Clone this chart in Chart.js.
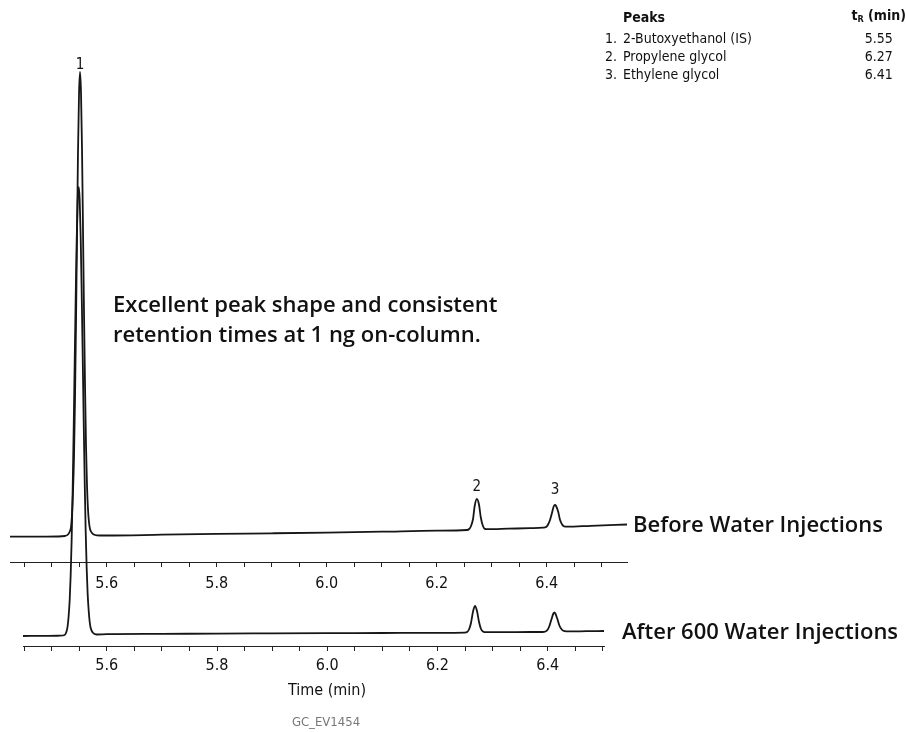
<!DOCTYPE html>
<html>
<head>
<meta charset="utf-8">
<script src="https://cdn.jsdelivr.net/npm/chart.js@4.4.1/dist/chart.umd.min.js"></script>
<style>
  html, body { margin: 0; padding: 0; background: #fff; }
  #wrap { position: relative; width: 906px; height: 732px; overflow: hidden; }
  canvas { position: absolute; left: 0; top: 0; }
  .txt { position: absolute; white-space: nowrap; color: #111; }
  .narrow { font-family: "Liberation Sans Narrow", "DejaVu Sans Condensed", sans-serif; }
  .bold { font-family: "Open Sans", sans-serif; font-weight: 600; font-size: 22px; line-height: 30px; }
  #peaks { position: absolute; left: 605px; top: 5px; border-collapse: collapse; font-size: 14px; color: #111; }
  #peaks td { padding: 0; line-height: 18px; white-space: nowrap; }
  #peaks tr.hd td { font-weight: bold; line-height: 20px; }
  #peaks td.c { text-align: center; }
  #peaks sub { font-size: 9px; vertical-align: -2px; }
</style>
</head>
<body>
<div id="wrap">
  <canvas id="cBefore" width="906" height="732"></canvas>
  <canvas id="cAfter" width="906" height="732"></canvas>

  <table id="peaks" class="narrow">
    <colgroup><col style="width:18px"><col style="width:229px"><col style="width:50px"></colgroup>
    <tbody id="peakRows">
      <tr class="hd"><td></td><td>Peaks</td><td class="c">t<sub>R</sub> (min)</td></tr>
    </tbody>
  </table>

  <div class="txt bold" style="left:113px; top:288px;">Excellent peak shape and consistent<br>retention times at 1 ng on-column.</div>
  <div class="txt bold" style="left:633px; top:508px;">Before Water Injections</div>
  <div class="txt bold" style="left:622px; top:615px;">After 600 Water Injections</div>
  <div class="txt narrow" style="left:327px; top:681px; font-size:16px; line-height:18px; transform:translateX(-50%);">Time (min)</div>
  <div class="txt narrow" style="left:326px; top:714px; font-size:13px; line-height:16px; color:#777; transform:translateX(-50%);">GC_EV1454</div>
</div>

<script>
// chromatogram before water injections (time in min, signal in arbitrary units)
const timeBefore = [5.424, 5.470, 5.510,
    5.5240, 5.5295, 5.5331, 5.5349, 5.5367, 5.5385, 5.5404, 5.5422, 5.5440, 5.5458, 5.5476, 5.5495, 5.5513,
    5.5531, 5.5549, 5.5567, 5.5585, 5.5604, 5.5622, 5.5640, 5.5658, 5.5676, 5.5695, 5.5731, 5.5785, 5.5876,
    5.600, 5.700, 5.800, 5.900, 6.000, 6.100, 6.200,
    6.255, 6.259, 6.262, 6.266, 6.269, 6.273, 6.277, 6.280, 6.284, 6.288, 6.293,
    6.330, 6.370,
    6.393, 6.399, 6.402, 6.406, 6.410, 6.413, 6.415, 6.417, 6.421, 6.424, 6.428, 6.431, 6.437,
    6.480, 6.546];
const signalBefore = [0.3, 0.3, 0.5,
    1.0, 2.5, 6, 10, 22, 44, 80, 137, 213, 299, 383, 443, 465,
    445, 390, 310, 228, 152, 92, 52, 28, 15, 8, 4, 2, 1.5,
    1.5, 2.3, 3.1, 3.7, 4.4, 5.3, 6.3,
    7.0, 8, 10.5, 18, 31, 38, 32, 20, 11, 8, 7.8,
    8.3, 8.8,
    9.3, 10, 12, 17, 25, 31, 32, 31, 25, 17.5, 12.5, 10.8, 10.3,
    11.2, 12.5];

// chromatogram after 600 water injections
const timeAfter = [5.448, 5.490, 5.515,
    5.5236, 5.5272, 5.5290, 5.5308, 5.5327, 5.5345, 5.5363, 5.5381, 5.5399, 5.5417,
    5.5436, 5.5454, 5.5472, 5.5490, 5.5508, 5.5526, 5.5544, 5.5563, 5.5581, 5.5599,
    5.5617, 5.5635, 5.5653, 5.5672, 5.5690, 5.5708, 5.5744, 5.5817,
    5.600, 5.700, 5.800, 5.900, 6.000, 6.100, 6.200,
    6.2498, 6.2535, 6.2571, 6.2607, 6.2644, 6.2680, 6.2716, 6.2753, 6.2789, 6.2825, 6.2880,
    6.330, 6.370,
    6.3902, 6.3957, 6.3993, 6.4030, 6.4066, 6.4102, 6.4120, 6.4138, 6.4174, 6.4211, 6.4247, 6.4283, 6.4338,
    6.470, 6.502];
const signalAfter = [0, 0.1, 0.3,
    1, 5, 10, 20, 36, 61, 97, 146, 206, 272,
    339, 396, 435, 449, 437, 400, 345, 280, 215, 155,
    105, 68, 42, 25, 14, 8, 3.5, 1.5,
    1.8, 2.1, 2.4, 2.6, 2.8, 3.0, 3.2,
    3.4, 4, 6.5, 13, 24.5, 30, 25, 14, 7, 4.5, 3.8,
    3.9, 4.0,
    4, 4.5, 6, 10, 16.5, 22.5, 23.7, 22.5, 17, 10.5, 7, 5.2, 4.6,
    4.8, 5];

const peakNumbers = ['1', '2', '3'];
const peakNames = ['2-Butoxyethanol (IS)', 'Propylene glycol', 'Ethylene glycol'];
const retentionTimes = [5.55, 6.27, 6.41];

const tickStep = 0.05;
const labelStep = 0.2;

// legend table
const rows = document.getElementById('peakRows');
peakNames.forEach((name, i) => {
    const tr = document.createElement('tr');
    tr.innerHTML = '<td>' + peakNumbers[i] + '.</td><td>' + name + '</td><td class="c">' + retentionTimes[i].toFixed(2) + '</td>';
    rows.appendChild(tr);
});

const toPoints = (xs, ys) => xs.map((x, i) => ({ x: x, y: ys[i] }));

const tickFont = { family: '"Liberation Sans Narrow", "DejaVu Sans Condensed", sans-serif', size: 16 };
const labelGaps = [3, 8, 11];

function timeAxis(min, max, pad) {
    return {
        type: 'linear',
        position: 'bottom',
        min: min,
        max: max,
        afterFit: s => { s.height = 40; },
        border: { display: true, color: '#222', width: 1 },
        grid: { display: true, drawOnChartArea: false, drawTicks: true, tickLength: 5, color: '#222', lineWidth: 1 },
        ticks: {
            stepSize: tickStep,
            includeBounds: false,
            autoSkip: false,
            maxRotation: 0,
            padding: pad,
            color: '#111',
            font: tickFont,
            callback: v => Math.abs(v / labelStep - Math.round(v / labelStep)) < 1e-6 ? v.toFixed(1) : ''
        }
    };
}

const peakLabels = {
    id: 'peakLabels',
    afterDatasetsDraw(chart) {
        const { ctx } = chart;
        const x = chart.scales.x, y = chart.scales.y;
        const pts = chart.data.datasets[0].data;
        ctx.save();
        ctx.font = '15px "DejaVu Sans Condensed", "DejaVu Sans", sans-serif';
        ctx.fillStyle = '#111';
        ctx.textAlign = 'center';
        ctx.textBaseline = 'alphabetic';
        retentionTimes.forEach((t, i) => {
            let top = null;
            pts.forEach(p => {
                if (Math.abs(p.x - t) < 0.012 && (!top || p.y > top.y)) top = p;
            });
            if (!top) return;
            ctx.fillText(peakNumbers[i], x.getPixelForValue(top.x), y.getPixelForValue(top.y) - labelGaps[i]);
        });
        ctx.restore();
    }
};

function trace(id, pts, xMin, xMax, yMin, yMax, pad, tickPad, extra) {
    return new Chart(document.getElementById(id), {
        type: 'line',
        data: {
            datasets: [{
                data: pts,
                borderColor: '#161616',
                borderWidth: 1.8,
                pointRadius: 0,
                cubicInterpolationMode: 'monotone',
                fill: false
            }]
        },
        options: {
            responsive: false,
            animation: false,
            devicePixelRatio: 1,
            layout: { padding: pad },
            plugins: {
                legend: { display: false },
                tooltip: { enabled: false }
            },
            scales: {
                x: timeAxis(xMin, xMax, tickPad),
                y: { display: false, min: yMin, max: yMax }
            }
        },
        plugins: extra
    });
}

trace('cBefore', toPoints(timeBefore, signalBefore), 5.424, 6.546, -25, 537,
      { left: 10, right: 279, top: 0, bottom: 130 }, 7, [peakLabels]);
trace('cAfter', toPoints(timeAfter, signalAfter), 5.448, 6.502, -10, 636,
      { left: 23, right: 302, top: 0, bottom: 46 }, 5, []);
</script>
</body>
</html>
